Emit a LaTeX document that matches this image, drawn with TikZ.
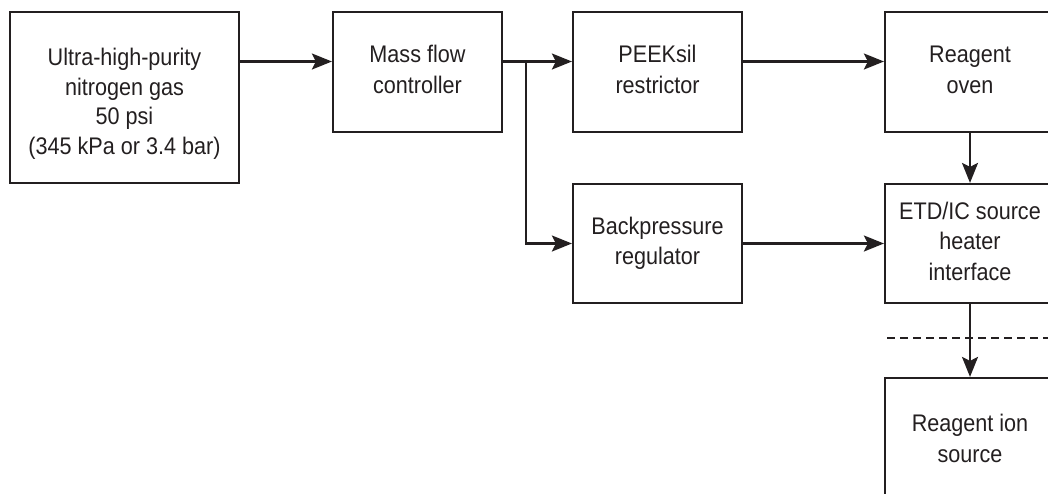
\documentclass[tikz,border=0pt]{standalone}
\usepackage{fontspec}
\setmainfont{Liberation Sans}[FakeStretch=0.9]
\usetikzlibrary{arrows.meta}
\definecolor{ink}{HTML}{231F20}
\begin{document}
\begin{tikzpicture}[x=1pt,y=-1pt,
  box/.style={draw=ink, line width=2.2pt, align=center, inner sep=0pt,
    font=\fontsize{24}{30.5}\selectfont, text=ink},
  conn/.style={draw=ink, line width=2.2pt, -{Stealth[length=20pt,width=16pt,inset=4pt]}},
  sepline/.style={draw=ink, line width=1.6pt, dash pattern=on 8pt off 5pt}]
\useasboundingbox (0,0) rectangle (1048,493);
\clip (0,0) rectangle (1048,493);
\node[box, minimum width=229, minimum height=171] (src) at (124.5,97.5)
  {\rule{0pt}{34pt}Ultra-high-purity\\[-1pt] \strut nitrogen gas\\[-1pt] \strut 50 psi\\[-1pt] \strut (345 kPa or 3.4 bar)};
\node[box, minimum width=169, minimum height=120] (mfc) at (417.5,72)
  {\strut Mass flow\\ \strut controller};
\node[box, minimum width=169, minimum height=120] (peek) at (657.5,72)
  {\strut PEEKsil\\ \strut restrictor};
\node[box, minimum width=169, minimum height=119] (bpr) at (657.5,243.5)
  {\strut Backpressure\\ \strut regulator};
\node[box, minimum width=170, minimum height=120] (oven) at (970,72)
  {\strut Reagent\\ \strut oven};
\node[box, minimum width=170, minimum height=119] (etd) at (970,243.5)
  {\strut ETD/IC source\\ \strut heater\\ \strut interface};
\node[box, minimum width=170, minimum height=126] (ion) at (970,441)
  {\strut Reagent ion\\ \strut source};
\coordinate (ya) at (0,61.5);
\coordinate (j) at (526,61.5);
\coordinate (dl) at (887,338);
\coordinate (dr) at (1050,338);
\draw[conn] (src.east |- ya) -- (mfc.west |- ya);
\draw[conn] (mfc.east |- ya) -- (peek.west |- ya);
\draw[conn] (j) |- (bpr.west);
\draw[conn] (peek.east |- ya) -- (oven.west |- ya);
\draw[conn] (bpr.east) -- (etd.west);
\draw[conn] (oven.south) -- (etd.north);
\draw[conn] (etd.south) -- (ion.north);
\draw[sepline] (dl) -- (dr);
\end{tikzpicture}
\end{document}
